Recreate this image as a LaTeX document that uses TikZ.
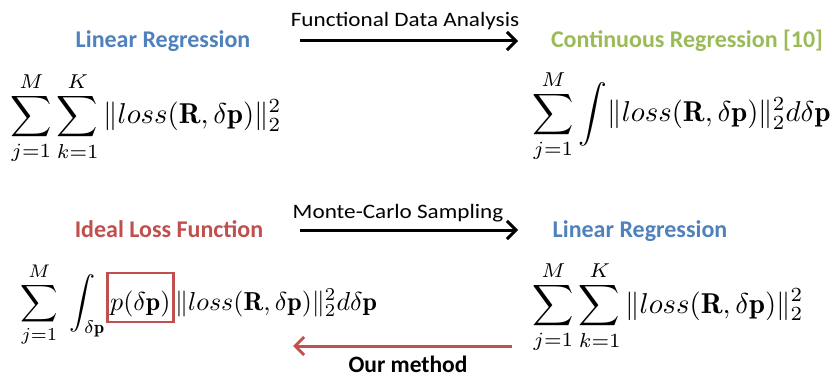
\documentclass[tikz,border=0pt]{standalone}
\usepackage{amsmath}
\usepackage{fontspec}
\newfontfamily\calibri{Carlito}
\usetikzlibrary{arrows.meta}
\definecolor{lrblue}{RGB}{79,129,189}
\definecolor{crgreen}{RGB}{155,187,89}
\definecolor{ilred}{RGB}{192,80,77}
\tikzset{
  lbl/.style={anchor=base, inner sep=0pt, font=\calibri\bfseries\fontsize{24}{28}\selectfont},
  arlbl/.style={anchor=base, inner sep=0pt, xscale=1.13, font=\calibri\fontsize{20.5}{24}\selectfont},
  mth/.style={anchor=base west, inner sep=0pt, scale=2.87},
  mths/.style={anchor=base west, inner sep=0pt, scale=2.6},
  blkarrow/.style={line width=3pt, -{Straight Barb[length=9pt,width=18pt,line width=3pt]}},
  redarrow/.style={line width=3pt, draw=ilred, -{Straight Barb[length=9pt,width=18pt,line width=3pt]}},
  redbox/.style={anchor=base west, scale=2.6, inner xsep=1pt, inner ysep=0pt, text height=14pt, text depth=4.4pt},
  boxline/.style={draw=ilred, line width=2.8pt}
}
\begin{document}
\begin{tikzpicture}[x=1pt,y=-1pt]
\path[use as bounding box, fill=white] (0,0) rectangle (838,385);
% top row
\node[lbl, text=lrblue] (lr1) at (163,48) {Linear Regression};
\node[lbl, text=crgreen] (cr) at (687,48) {Continuous Regression [10]};
\node[arlbl] (fda) at (405,27) {Functional Data Analysis};
\coordinate (a1s) at (300,41);
\coordinate (a1e) at (518,41);
\draw[blkarrow] (a1s) -- (a1e);
\node[mth] (f1) at (10,124) {$\displaystyle\sum_{j=1}^{M}\sum_{k=1}^{K}\|loss(\mathbf{R},\delta\mathbf{p})\|_2^2$};
\node[mth] (f2) at (532,122) {$\displaystyle\sum_{j=1}^{M}\int\!\|loss(\mathbf{R},\delta\mathbf{p})\|_2^2d\delta\mathbf{p}$};
% bottom row
\node[lbl, text=ilred] (ilf) at (169,237) {Ideal Loss Function};
\node[lbl, text=lrblue] (lr2) at (640,237) {Linear Regression};
\node[arlbl] (mcs) at (398,218) {Monte-Carlo Sampling};
\coordinate (a2s) at (300,230);
\coordinate (a2e) at (518,230);
\draw[blkarrow] (a2s) -- (a2e);
\node[mths] (f3a) at (20,310) {$\displaystyle\sum_{j=1}^{M}\;\int_{\delta\mathbf{p}}$};
\node[redbox] (f3b) at ([xshift=1pt]f3a.base east) {$p(\delta\mathbf{p})$};
\draw[boxline] (f3b.south west) rectangle (f3b.north east);
\node[mths] (f3c) at ([xshift=1pt]f3b.base east) {$\|loss(\mathbf{R},\delta\mathbf{p})\|_2^2d\delta\mathbf{p}$};
\node[mth] (f4) at (532,313) {$\displaystyle\sum_{j=1}^{M}\sum_{k=1}^{K}\|loss(\mathbf{R},\delta\mathbf{p})\|_2^2$};
\coordinate (a3s) at (512,346);
\coordinate (a3e) at (293,346);
\draw[redarrow] (a3s) -- (a3e);
\node[lbl, text=black, font=\calibri\bfseries\fontsize{23.5}{27}\selectfont] (om) at (408,372) {Our method};
\end{tikzpicture}
\end{document}
